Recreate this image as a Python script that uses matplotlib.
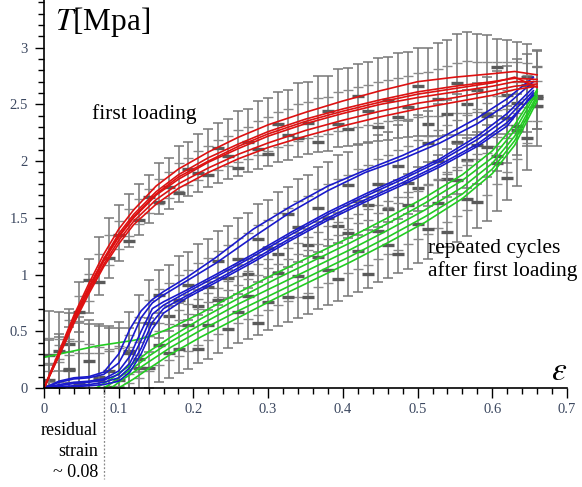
import numpy as np
import matplotlib
matplotlib.use('Agg')
import matplotlib.pyplot as plt

plt.rcParams['font.family'] = ['Liberation Serif', 'DejaVu Serif']
plt.rcParams['mathtext.fontset'] = 'stix'

# ---- curves: first loading (red) ----
red_x = [0, 0.02, 0.04, 0.06, 0.08, 0.10, 0.12, 0.15, 0.18, 0.22, 0.26, 0.30, 0.35, 0.40, 0.45, 0.50, 0.55, 0.60, 0.63, 0.66]
red_curves = [
    [0, 0.32, 0.64, 0.92, 1.18, 1.40, 1.57, 1.78, 1.93, 2.08, 2.21, 2.32, 2.43, 2.53, 2.62, 2.70, 2.74, 2.77, 2.79, 2.76],
    [0, 0.31, 0.62, 0.89, 1.14, 1.36, 1.53, 1.73, 1.88, 2.03, 2.15, 2.26, 2.37, 2.46, 2.54, 2.61, 2.66, 2.70, 2.73, 2.72],
    [0, 0.30, 0.60, 0.87, 1.12, 1.33, 1.50, 1.70, 1.84, 1.99, 2.11, 2.22, 2.33, 2.42, 2.50, 2.56, 2.61, 2.66, 2.70, 2.70],
    [0, 0.29, 0.58, 0.85, 1.09, 1.30, 1.47, 1.66, 1.80, 1.94, 2.06, 2.16, 2.27, 2.36, 2.44, 2.51, 2.56, 2.62, 2.66, 2.68],
    [0, 0.28, 0.57, 0.83, 1.07, 1.27, 1.44, 1.62, 1.76, 1.90, 2.02, 2.12, 2.22, 2.31, 2.39, 2.46, 2.52, 2.58, 2.63, 2.66],
    [0, 0.30, 0.61, 0.88, 1.13, 1.34, 1.51, 1.71, 1.86, 2.00, 2.13, 2.24, 2.35, 2.44, 2.52, 2.59, 2.64, 2.69, 2.74, 2.65],
]

# ---- curves: repeated cycles (blue) ----
blue_x = [0, 0.02, 0.04, 0.06, 0.08, 0.10, 0.115, 0.13, 0.145, 0.16, 0.19, 0.23, 0.28, 0.33, 0.38, 0.43, 0.48, 0.53, 0.58, 0.62, 0.655]
blue_curves = [
    [0, 0.06, 0.09, 0.10, 0.14, 0.30, 0.52, 0.68, 0.78, 0.85, 0.97, 1.15, 1.40, 1.60, 1.78, 1.92, 2.05, 2.20, 2.38, 2.55, 2.74],
    [0, 0.05, 0.08, 0.09, 0.12, 0.22, 0.40, 0.62, 0.75, 0.82, 0.94, 1.10, 1.33, 1.55, 1.74, 1.90, 2.02, 2.16, 2.33, 2.50, 2.70],
    [0, 0.03, 0.05, 0.06, 0.08, 0.15, 0.28, 0.50, 0.70, 0.76, 0.86, 1.00, 1.18, 1.37, 1.55, 1.71, 1.86, 2.02, 2.22, 2.42, 2.65],
    [0, 0.02, 0.04, 0.05, 0.07, 0.12, 0.22, 0.42, 0.65, 0.73, 0.84, 0.98, 1.16, 1.35, 1.53, 1.69, 1.84, 2.00, 2.19, 2.38, 2.62],
    [0, 0.01, 0.02, 0.03, 0.05, 0.09, 0.18, 0.35, 0.58, 0.70, 0.81, 0.95, 1.13, 1.32, 1.50, 1.66, 1.81, 1.97, 2.15, 2.34, 2.58],
    [0, 0.01, 0.01, 0.02, 0.03, 0.06, 0.14, 0.30, 0.52, 0.66, 0.79, 0.93, 1.11, 1.30, 1.48, 1.64, 1.79, 1.95, 2.13, 2.31, 2.60],
]

# ---- curves: repeated cycles (green) ----
nan = np.nan
green_x = [0.0, 0.07, 0.08, 0.09, 0.10, 0.12, 0.14, 0.17, 0.21, 0.26, 0.31, 0.36, 0.41, 0.46, 0.51, 0.56, 0.60, 0.63, 0.66]
green_curves = [
    [0.27, 0.37, 0.38, 0.39, 0.40, 0.42, 0.45, 0.53, 0.66, 0.84, 1.01, 1.17, 1.33, 1.50, 1.68, 1.88, 2.09, 2.32, 2.63],
    [nan, 0.00, 0.04, 0.08, 0.13, 0.22, 0.32, 0.45, 0.61, 0.79, 0.96, 1.12, 1.28, 1.45, 1.63, 1.83, 2.03, 2.27, 2.61],
    [nan, nan, 0.00, 0.04, 0.09, 0.18, 0.28, 0.41, 0.56, 0.74, 0.90, 1.06, 1.22, 1.39, 1.57, 1.77, 1.98, 2.22, 2.58],
    [nan, nan, nan, 0.00, 0.05, 0.14, 0.23, 0.36, 0.51, 0.68, 0.84, 1.00, 1.16, 1.33, 1.51, 1.71, 1.93, 2.18, 2.56],
    [nan, nan, nan, nan, 0.00, 0.08, 0.17, 0.30, 0.45, 0.62, 0.79, 0.95, 1.11, 1.28, 1.46, 1.67, 1.89, 2.14, 2.53],
]

# ---- error bars (same strain positions for each family) ----
bar_x = np.linspace(0.0067, 0.66, 50)

red_mid = [0.10, 0.30, 0.50, 0.69, 0.87, 1.04, 1.19, 1.33, 1.44, 1.54, 1.63, 1.71, 1.77, 1.84, 1.89, 1.94, 1.99,
           2.03, 2.07, 2.11, 2.14, 2.18, 2.22, 2.25, 2.28, 2.31, 2.34, 2.36, 2.38, 2.41, 2.43, 2.45, 2.47, 2.49,
           2.51, 2.52, 2.54, 2.56, 2.57, 2.58, 2.60, 2.61, 2.62, 2.63, 2.64, 2.66, 2.67, 2.69, 2.70, 2.70]
red_up = [0.10, 0.15, 0.20, 0.24, 0.27, 0.29, 0.31, 0.28, 0.27, 0.26, 0.25, 0.27, 0.26, 0.29, 0.28, 0.30, 0.29,
          0.31, 0.30, 0.33, 0.32, 0.35, 0.34, 0.36, 0.35, 0.38, 0.36, 0.39, 0.37, 0.40, 0.39, 0.41, 0.40, 0.42,
          0.41, 0.43, 0.42, 0.44, 0.43, 0.46, 0.47, 0.51, 0.52, 0.49, 0.47, 0.42, 0.40, 0.36, 0.33, 0.27]
red_dn = [0.10, 0.15, 0.18, 0.20, 0.21, 0.22, 0.22, 0.21, 0.20, 0.19, 0.18, 0.18, 0.19, 0.20, 0.20, 0.21, 0.22,
          0.22, 0.23, 0.24, 0.24, 0.25, 0.26, 0.26, 0.27, 0.27, 0.28, 0.28, 0.29, 0.29, 0.30, 0.30, 0.31, 0.31,
          0.32, 0.32, 0.33, 0.34, 0.35, 0.36, 0.37, 0.38, 0.39, 0.40, 0.41, 0.42, 0.43, 0.44, 0.44, 0.42]

blue_mid = [0.02, 0.03, 0.04, 0.05, 0.06, 0.07, 0.10, 0.16, 0.27, 0.44, 0.60, 0.71, 0.77, 0.83, 0.88, 0.93, 0.98,
            1.03, 1.09, 1.14, 1.19, 1.25, 1.30, 1.35, 1.40, 1.45, 1.50, 1.55, 1.60, 1.64, 1.68, 1.72, 1.76, 1.80,
            1.84, 1.88, 1.92, 1.96, 2.00, 2.04, 2.09, 2.13, 2.18, 2.23, 2.29, 2.35, 2.42, 2.50, 2.58, 2.68]
blue_up = [0.40, 0.45, 0.50, 0.52, 0.50, 0.48, 0.45, 0.42, 0.40, 0.38, 0.35, 0.33, 0.31, 0.33, 0.32, 0.34, 0.33,
           0.35, 0.34, 0.36, 0.35, 0.37, 0.36, 0.38, 0.37, 0.39, 0.38, 0.40, 0.39, 0.41, 0.40, 0.42, 0.41, 0.43,
           0.42, 0.44, 0.43, 0.45, 0.44, 0.46, 0.45, 0.46, 0.45, 0.46, 0.45, 0.44, 0.42, 0.40, 0.36, 0.30]
blue_dn = [0.30, 0.30, 0.30, 0.30, 0.30, 0.30, 0.30, 0.30, 0.30, 0.30, 0.28, 0.27, 0.27, 0.28, 0.28, 0.29, 0.29,
           0.30, 0.30, 0.31, 0.31, 0.32, 0.32, 0.33, 0.33, 0.34, 0.34, 0.35, 0.35, 0.36, 0.36, 0.37, 0.37, 0.38,
           0.38, 0.39, 0.39, 0.40, 0.40, 0.41, 0.41, 0.42, 0.42, 0.43, 0.43, 0.44, 0.44, 0.45, 0.45, 0.40]

green_mid = [0.20, 0.20, 0.20, 0.19, 0.18, 0.16, 0.15, 0.17, 0.19, 0.24, 0.30, 0.35, 0.40, 0.44, 0.49, 0.54, 0.59,
             0.64, 0.69, 0.74, 0.78, 0.82, 0.87, 0.91, 0.95, 0.99, 1.03, 1.08, 1.12, 1.16, 1.21, 1.25, 1.29, 1.34,
             1.39, 1.43, 1.48, 1.53, 1.58, 1.63, 1.69, 1.74, 1.80, 1.87, 1.94, 2.03, 2.14, 2.26, 2.40, 2.58]
green_up = [0.48, 0.47, 0.46, 0.44, 0.42, 0.40, 0.38, 0.36, 0.34, 0.33, 0.32, 0.31, 0.32, 0.31, 0.33, 0.32, 0.34,
            0.33, 0.35, 0.34, 0.36, 0.35, 0.37, 0.36, 0.37, 0.38, 0.37, 0.38, 0.39, 0.38, 0.39, 0.40, 0.39, 0.40,
            0.41, 0.40, 0.41, 0.42, 0.41, 0.42, 0.42, 0.41, 0.40, 0.39, 0.38, 0.37, 0.35, 0.33, 0.30, 0.25]
green_dn = [0.30, 0.30, 0.30, 0.30, 0.30, 0.30, 0.30, 0.30, 0.30, 0.30, 0.30, 0.30, 0.31, 0.31, 0.32, 0.32, 0.33,
            0.33, 0.34, 0.34, 0.35, 0.35, 0.36, 0.36, 0.37, 0.37, 0.38, 0.38, 0.39, 0.39, 0.40, 0.40, 0.41, 0.41,
            0.42, 0.42, 0.43, 0.43, 0.44, 0.44, 0.45, 0.45, 0.46, 0.46, 0.47, 0.47, 0.48, 0.48, 0.48, 0.45]

# where the darker mark sits inside each bar (fraction of the lower half-range, per bar)
dark_pos = [-0.3, 0.2, -0.6, -0.1, 0.4, -0.5, -0.2, 0.1, -0.7, -0.3, 0.3, -0.4, 0.0, -0.6, 0.2, -0.2, -0.5,
            0.4, -0.1, -0.7, 0.1, -0.3, -0.6, 0.3, -0.2, -0.4, 0.0, -0.7, 0.2, -0.3, -0.5, 0.4, -0.1, -0.6,
            0.1, -0.4, -0.2, 0.3, -0.7, -0.1, -0.5, 0.2, -0.3, 0.0, -0.6, 0.4, -0.2, -0.4, 0.1, -0.3]

residual_strain = 0.08

fig = plt.figure(figsize=(5.82, 4.87), dpi=100)
ax = fig.add_axes([44 / 582, 99 / 487, 523 / 582, 388 / 487])


def draw_bars(mid, up, dn, shift):
    mid = np.array(mid)
    up = np.array(up)
    dn = np.array(dn)
    ax.errorbar(bar_x, mid, yerr=[dn, up], fmt='none', ecolor='#777777', elinewidth=1.1,
                capsize=3.4, capthick=1.1, zorder=1)
    # inner caps
    ax.scatter(bar_x, mid + 0.5 * up, marker='_', s=48, c='#8a8a8a', linewidths=1.0, zorder=1)
    ax.scatter(bar_x, mid - 0.5 * dn, marker='_', s=48, c='#8a8a8a', linewidths=1.0, zorder=1)
    # dark marks
    pos = np.roll(np.array(dark_pos), shift)
    ax.scatter(bar_x, mid + pos * dn, marker='_', s=70, c='#5a5a5a', linewidths=2.4, zorder=1)


draw_bars(red_mid, red_up, red_dn, 0)
draw_bars(blue_mid, blue_up, blue_dn, 7)
draw_bars(green_mid, green_up, green_dn, 13)

for c in green_curves:
    ax.plot(green_x, c, color='#22cc22', lw=1.2, zorder=3)
for c in blue_curves:
    ax.plot(blue_x, c, color='#1a1acc', lw=1.2, zorder=4)
for c in red_curves:
    ax.plot(red_x, c, color='#dd1111', lw=1.2, zorder=5)

ax.set_xlim(0, 0.7)
ax.set_ylim(0, 3.42)
for s in ['top', 'right']:
    ax.spines[s].set_visible(False)
for s in ['left', 'bottom']:
    ax.spines[s].set_linewidth(1.2)
    ax.spines[s].set_zorder(6)

ax.set_xticks([0, 0.1, 0.2, 0.3, 0.4, 0.5, 0.6, 0.7])
ax.set_xticklabels(['0', '0.1', '0.2', '0.3', '0.4', '0.5', '0.6', '0.7'])
ax.set_xticks(np.arange(0, 0.701, 0.02), minor=True)
ax.set_yticks([0, 0.5, 1, 1.5, 2, 2.5, 3])
ax.set_yticklabels(['0', '0.5', '1', '1.5', '2', '2.5', '3'])
ax.set_yticks(np.arange(0, 3.41, 0.1), minor=True)
ax.tick_params(which='major', length=7, width=1.0, labelsize=10.5, labelcolor='#3c4860', pad=4)
ax.tick_params(which='minor', length=4, width=1.0)
ax.tick_params(axis='y', which='major', length=6.5, pad=5)

# residual strain marker
ax.plot([residual_strain, residual_strain], [0, -0.8], ls=(0, (1.5, 1.5)), color='#888888',
        lw=0.9, clip_on=False, zorder=6)

fig.text(55 / 582, 1 - 30 / 487, r'$T$[Mpa]', fontsize=22.5, va='baseline', ha='left')
fig.text(567 / 582, 1 - 380 / 487, r'$\varepsilon$', fontsize=24, va='baseline', ha='right')
fig.text(92 / 582, 1 - 119 / 487, 'first loading', fontsize=15.5, va='baseline', ha='left')
fig.text(428 / 582, 1 - 253 / 487, 'repeated cycles', fontsize=15.5, va='baseline', ha='left')
fig.text(428 / 582, 1 - 276 / 487, 'after first loading', fontsize=15.5, va='baseline', ha='left')
fig.text(98 / 582, 1 - 435 / 487, 'residual', fontsize=13, va='baseline', ha='right')
fig.text(98 / 582, 1 - 456 / 487, 'strain', fontsize=13, va='baseline', ha='right')
fig.text(98 / 582, 1 - 477 / 487, '~ 0.08', fontsize=13, va='baseline', ha='right')

fig.savefig('out.png', dpi=100)
